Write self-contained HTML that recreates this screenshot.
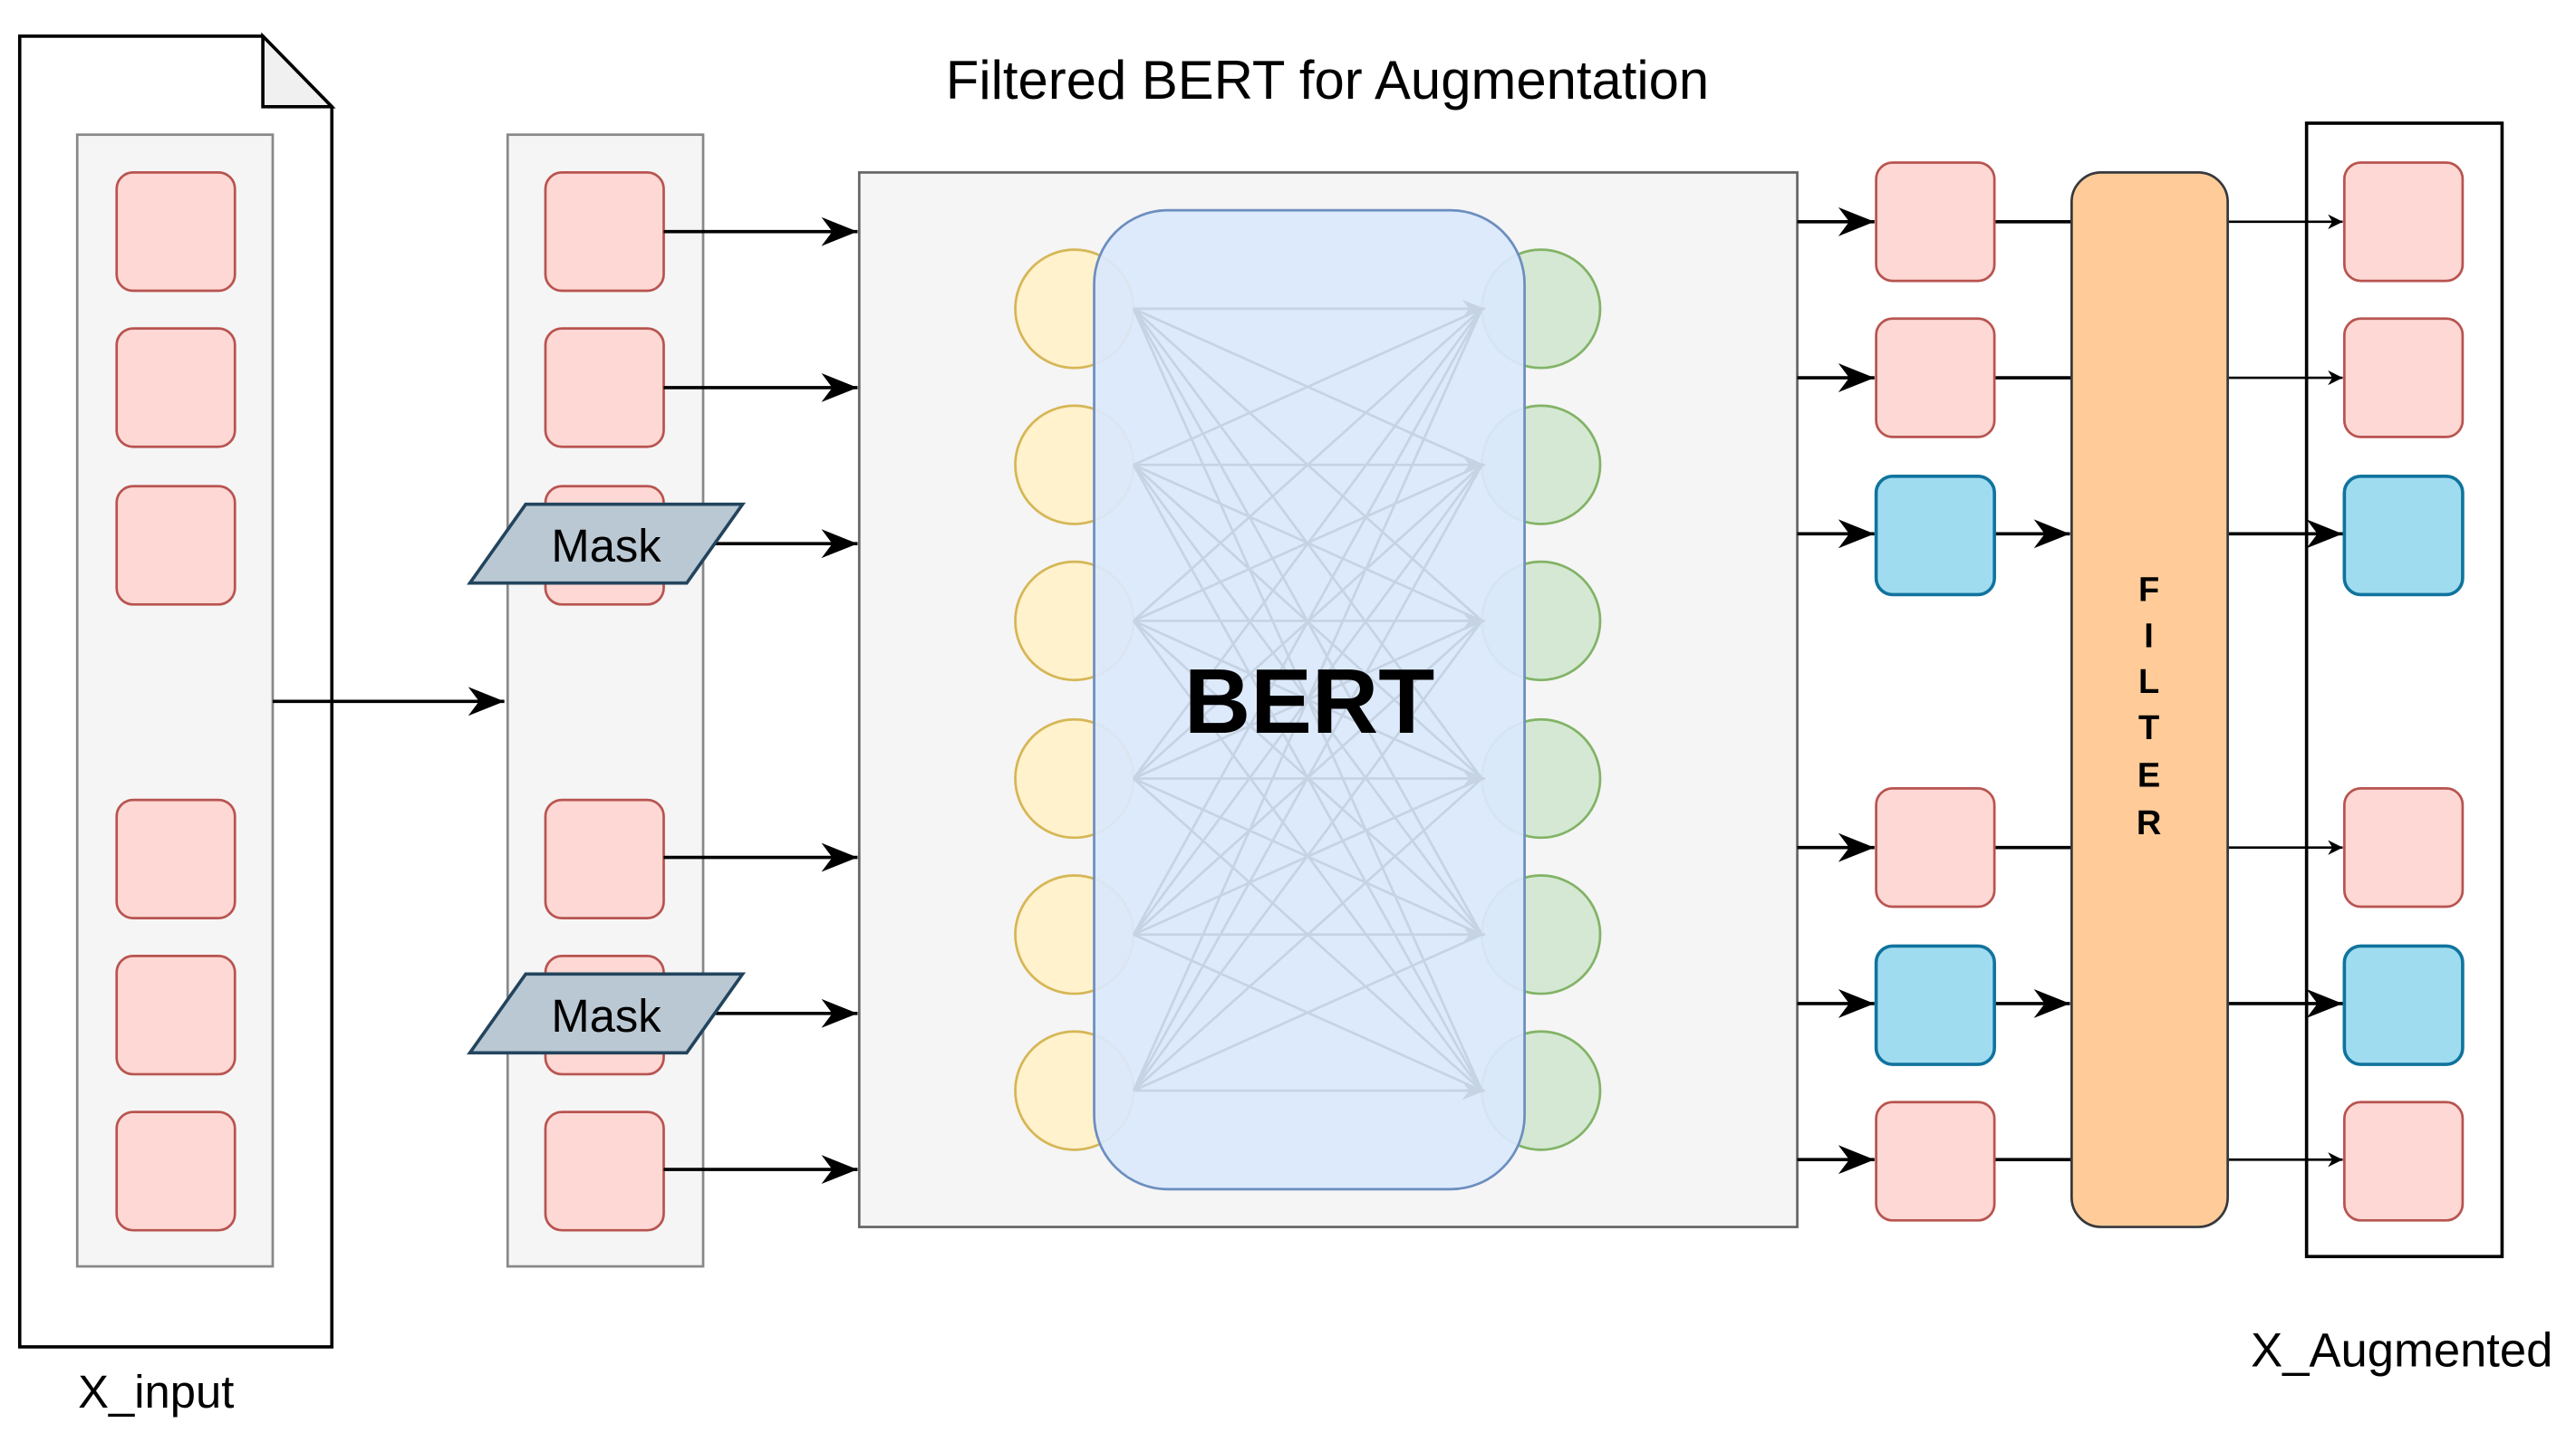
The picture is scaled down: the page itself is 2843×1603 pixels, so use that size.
<!DOCTYPE html>
<html><head><meta charset="utf-8"><style>html,body{margin:0;padding:0;background:#fff}svg{display:block}</style></head>
<body>
<svg width="2843" height="1603" viewBox="0 0 1568 884" preserveAspectRatio="none" xmlns="http://www.w3.org/2000/svg" font-family="Liberation Sans, DejaVu Sans, sans-serif">
<defs>
<marker id="a" viewBox="0 0 10 10" refX="10" refY="5" markerWidth="9" markerHeight="9" markerUnits="userSpaceOnUse" orient="auto"><path d="M0,0 L10,5 L0,10 L3,5 z" fill="#000"/></marker>
<marker id="ab" viewBox="0 0 10 10" refX="10" refY="5" markerWidth="22" markerHeight="22" markerUnits="userSpaceOnUse" orient="auto"><path d="M0,1 L10,5 L0,9 L3,5 z" fill="#000"/></marker>
<marker id="g" viewBox="0 0 10 10" refX="10" refY="5" markerWidth="14" markerHeight="14" markerUnits="userSpaceOnUse" orient="auto"><path d="M0,1 L10,5 L0,9 L3,5 z" fill="#c5d3e3"/></marker>
</defs>
<path d="M12,22 L160,22 L202,65 L202,820 L12,820 Z" fill="#fff" stroke="#000" stroke-width="2"/>
<path d="M160,22 L160,65 L202,65 Z" fill="#f0f0f0" stroke="#000" stroke-width="2"/>
<rect x="47" y="82" width="119" height="689" fill="#f5f5f5" stroke="#888" stroke-width="1.5"/>
<rect x="309" y="82" width="119" height="689" fill="#f5f5f5" stroke="#888" stroke-width="1.5"/>
<g fill="#fdd8d4" stroke="#b85450" stroke-width="1.5">
<rect x="71" y="105" width="72" height="72" rx="10"/><rect x="71" y="200" width="72" height="72" rx="10"/><rect x="71" y="296" width="72" height="72" rx="10"/>
<rect x="71" y="487" width="72" height="72" rx="10"/><rect x="71" y="582" width="72" height="72" rx="10"/><rect x="71" y="677" width="72" height="72" rx="10"/>
<rect x="332" y="105" width="72" height="72" rx="10"/><rect x="332" y="200" width="72" height="72" rx="10"/><rect x="332" y="296" width="72" height="72" rx="10"/>
<rect x="332" y="487" width="72" height="72" rx="10"/><rect x="332" y="582" width="72" height="72" rx="10"/><rect x="332" y="677" width="72" height="72" rx="10"/>
</g>
<line x1="166" y1="427" x2="307" y2="427" stroke="#000" stroke-width="2" marker-end="url(#ab)"/>
<g stroke="#000" stroke-width="2" marker-end="url(#ab)">
<line x1="404" y1="141" x2="522" y2="141"/><line x1="404" y1="236" x2="522" y2="236"/><line x1="420" y1="331" x2="522" y2="331"/>
<line x1="404" y1="522" x2="522" y2="522"/><line x1="420" y1="617" x2="522" y2="617"/><line x1="404" y1="712" x2="522" y2="712"/>
</g>
<g fill="#bac8d3" stroke="#23445d" stroke-width="2">
<path d="M320,307 L452,307 L418,355 L286,355 Z"/><path d="M320,593 L452,593 L418,641 L286,641 Z"/>
</g>
<g font-size="28" text-anchor="middle" fill="#000"><text x="369" y="342">Mask</text><text x="369" y="628">Mask</text></g>
<text x="808" y="60" font-size="33" text-anchor="middle" fill="#000">Filtered BERT for Augmentation</text>
<rect x="523" y="105" width="571" height="642" fill="#f5f5f5" stroke="#666" stroke-width="1.5"/>
<g fill="#fff2cc" stroke="#d6b656" stroke-width="1.5">
<circle cx="654" cy="188" r="36"/><circle cx="654" cy="283" r="36"/><circle cx="654" cy="378" r="36"/><circle cx="654" cy="474" r="36"/><circle cx="654" cy="569" r="36"/><circle cx="654" cy="664" r="36"/>
</g>
<g fill="#d5e8d4" stroke="#82b366" stroke-width="1.5">
<circle cx="938" cy="188" r="36"/><circle cx="938" cy="283" r="36"/><circle cx="938" cy="378" r="36"/><circle cx="938" cy="474" r="36"/><circle cx="938" cy="569" r="36"/><circle cx="938" cy="664" r="36"/>
</g>
<rect x="666" y="128" width="262" height="596" rx="45" fill="#dae8fc" fill-opacity="0.93" stroke="#6c8ebf" stroke-width="1.5"/>
<g stroke="#c5d3e3" stroke-width="1.5">
<path d="M690,188L902,188M690,188L902,283M690,188L902,378M690,188L902,474M690,188L902,569M690,188L902,664
M690,283L902,188M690,283L902,283M690,283L902,378M690,283L902,474M690,283L902,569M690,283L902,664
M690,378L902,188M690,378L902,283M690,378L902,378M690,378L902,474M690,378L902,569M690,378L902,664
M690,474L902,188M690,474L902,283M690,474L902,378M690,474L902,474M690,474L902,569M690,474L902,664
M690,569L902,188M690,569L902,283M690,569L902,378M690,569L902,474M690,569L902,569M690,569L902,664
M690,664L902,188M690,664L902,283M690,664L902,378M690,664L902,474M690,664L902,569M690,664L902,664"/>
</g>
<g stroke="#c5d3e3" stroke-width="1.5" marker-end="url(#g)">
<line x1="880" y1="188" x2="904" y2="188"/><line x1="880" y1="283" x2="904" y2="283"/><line x1="880" y1="378" x2="904" y2="378"/><line x1="880" y1="474" x2="904" y2="474"/><line x1="880" y1="569" x2="904" y2="569"/><line x1="880" y1="664" x2="904" y2="664"/>
</g>
<text x="797" y="446" font-size="56" font-weight="bold" text-anchor="middle" fill="#000">BERT</text>
<g stroke="#000" stroke-width="2" marker-end="url(#ab)">
<line x1="1094" y1="135" x2="1141" y2="135"/><line x1="1094" y1="230" x2="1141" y2="230"/><line x1="1094" y1="325" x2="1141" y2="325"/>
<line x1="1094" y1="516" x2="1141" y2="516"/><line x1="1094" y1="611" x2="1141" y2="611"/><line x1="1094" y1="706" x2="1141" y2="706"/>
<line x1="1214" y1="325" x2="1260" y2="325"/><line x1="1214" y1="611" x2="1260" y2="611"/>
<line x1="1356" y1="325" x2="1426" y2="325"/><line x1="1356" y1="611" x2="1426" y2="611"/>
</g>
<g stroke="#000" stroke-width="2">
<line x1="1214" y1="135" x2="1261" y2="135"/><line x1="1214" y1="230" x2="1261" y2="230"/><line x1="1214" y1="516" x2="1261" y2="516"/><line x1="1214" y1="706" x2="1261" y2="706"/>
</g>
<g stroke="#000" stroke-width="1.5" marker-end="url(#a)">
<line x1="1356" y1="135" x2="1426" y2="135"/><line x1="1356" y1="230" x2="1426" y2="230"/><line x1="1356" y1="516" x2="1426" y2="516"/><line x1="1356" y1="706" x2="1426" y2="706"/>
</g>
<rect x="1404" y="75" width="119" height="690" fill="none" stroke="#000" stroke-width="2"/>
<g fill="#fdd8d4" stroke="#b85450" stroke-width="1.5">
<rect x="1142" y="99" width="72" height="72" rx="10"/><rect x="1142" y="194" width="72" height="72" rx="10"/><rect x="1142" y="480" width="72" height="72" rx="10"/><rect x="1142" y="671" width="72" height="72" rx="10"/>
<rect x="1427" y="99" width="72" height="72" rx="10"/><rect x="1427" y="194" width="72" height="72" rx="10"/><rect x="1427" y="480" width="72" height="72" rx="10"/><rect x="1427" y="671" width="72" height="72" rx="10"/>
</g>
<g fill="#a0dcef" stroke="#10739e" stroke-width="2">
<rect x="1142" y="290" width="72" height="72" rx="10"/><rect x="1142" y="576" width="72" height="72" rx="10"/>
<rect x="1427" y="290" width="72" height="72" rx="10"/><rect x="1427" y="576" width="72" height="72" rx="10"/>
</g>
<rect x="1261" y="105" width="95" height="642" rx="18" fill="#ffcc99" stroke="#36393d" stroke-width="1.5"/>
<g font-size="21" font-weight="bold" text-anchor="middle" fill="#000">
<text x="1308" y="366">F</text><text x="1308" y="394">I</text><text x="1308" y="422">L</text><text x="1308" y="450">T</text><text x="1308" y="479">E</text><text x="1308" y="508">R</text>
</g>
<text x="95" y="857" font-size="28" text-anchor="middle" fill="#000">X_input</text>
<text x="1462" y="832" font-size="29" text-anchor="middle" fill="#000">X_Augmented</text>
</svg>
</body></html>
